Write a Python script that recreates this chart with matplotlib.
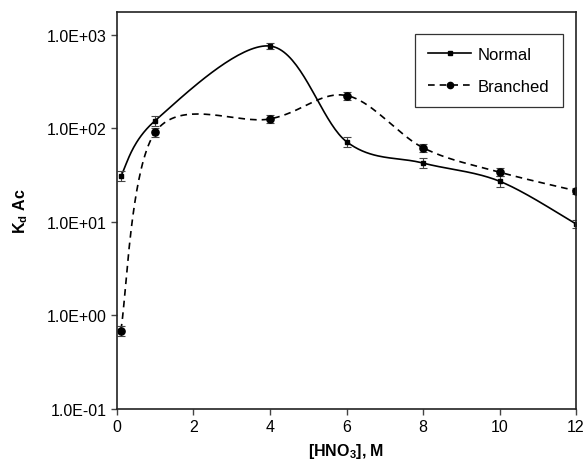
import numpy as np
import matplotlib
matplotlib.use("Agg")
import matplotlib.pyplot as plt

# ── Data ──────────────────────────────────────────────────────────────────────
hno3 = [0.1, 1, 4, 6, 8, 10, 12]
kd_normal = [31, 121, 757, 72, 42.5, 27.2, 9.5]
kd_branched = [0.69, 91, 126, 224, 62, 34, 21.5]
err_normal = [0.12, 0.12, 0.08, 0.12, 0.12, 0.14, 0.10]    # relative error
err_branched = [0.12, 0.12, 0.10, 0.10, 0.10, 0.10, 0.08]
yticks = [0.1, 1, 10, 100, 1000]
ytick_labels = ["1.0E-01", "1.0E+00", "1.0E+01", "1.0E+02", "1.0E+03"]
xticks = [0, 2, 4, 6, 8, 10, 12]

plt.rcParams["font.family"] = ["Liberation Sans", "DejaVu Sans"]
plt.rcParams["font.size"] = 11.5
plt.rcParams["mathtext.fontset"] = "custom"
plt.rcParams["mathtext.rm"] = "Liberation Sans"
plt.rcParams["mathtext.bf"] = "Liberation Sans:bold"


def smooth(x, y, n=40):
    """Excel-style smoothed line: Catmull-Rom Bezier in (x, log y) space."""
    x = np.asarray(x, float)
    ly = np.log10(np.asarray(y, float))
    pts = np.column_stack([x, ly])
    out = []
    t = np.linspace(0, 1, n)[:, None]
    for i in range(len(pts) - 1):
        p0 = pts[max(i - 1, 0)]
        p1 = pts[i]
        p2 = pts[i + 1]
        p3 = pts[min(i + 2, len(pts) - 1)]
        c1 = p1 + (p2 - p0) / 6
        c2 = p2 - (p3 - p1) / 6
        seg = ((1 - t) ** 3) * p1 + 3 * ((1 - t) ** 2) * t * c1 \
            + 3 * (1 - t) * t ** 2 * c2 + t ** 3 * p2
        out.append(seg if i == 0 else seg[1:])
    out = np.vstack(out)
    return out[:, 0], 10 ** out[:, 1]


fig = plt.figure(figsize=(5.87, 4.64), dpi=100)
ax = fig.add_axes([0.1993, 0.1164, 0.7820, 0.8562])

# Normal
sx, sy = smooth(hno3, kd_normal)
ax.plot(sx, sy, color="black", lw=1.2, ls="-")
yn = np.array(kd_normal)
ax.errorbar(hno3, yn, yerr=yn * np.array(err_normal), fmt="s", ms=3.2,
            color="black", ecolor="#444444", elinewidth=0.8, capsize=3, capthick=0.8)

# Branched
sx, sy = smooth(hno3, kd_branched)
ax.plot(sx, sy, color="black", lw=1.2, ls=(0, (4, 3)))
yb = np.array(kd_branched)
ax.errorbar(hno3, yb, yerr=yb * np.array(err_branched), fmt="o", ms=5.2,
            color="black", ecolor="#444444", elinewidth=0.8, capsize=3, capthick=0.8)

# legend proxies
ax.plot([], [], color="black", lw=1.2, marker="s", ms=3, label="Normal")
ax.plot([], [], color="black", lw=1.2, ls=(0, (4, 3)), marker="o", ms=4.5, label="Branched")
handles, labels = ax.get_legend_handles_labels()
leg = ax.legend(handles, labels, loc="upper left", bbox_to_anchor=(0.63, 0.965),
                frameon=True, fancybox=False, edgecolor="black", handlelength=2.6,
                labelspacing=1.0, borderpad=0.8, handletextpad=0.4, fontsize=12)
leg.get_frame().set_linewidth(0.9)

ax.set_yscale("log")
ax.set_xlim(0, 12)
ax.set_ylim(0.1, 10 ** 3.246)
ax.set_yticks(yticks)
ax.set_yticklabels(ytick_labels)
ax.yaxis.set_minor_locator(matplotlib.ticker.NullLocator())
ax.set_xticks(xticks)
ax.tick_params(direction="out", length=4, width=1, color="#444444")
for s in ax.spines.values():
    s.set_linewidth(1.2)
    s.set_color("#222222")

ax.set_xlabel("[HNO$_\\mathbf{3}$], M", fontweight="bold", labelpad=5)
ax.set_ylabel("K$_\\mathbf{d}$ Ac", fontweight="bold", labelpad=12)

fig.savefig("out.png", dpi=100)
